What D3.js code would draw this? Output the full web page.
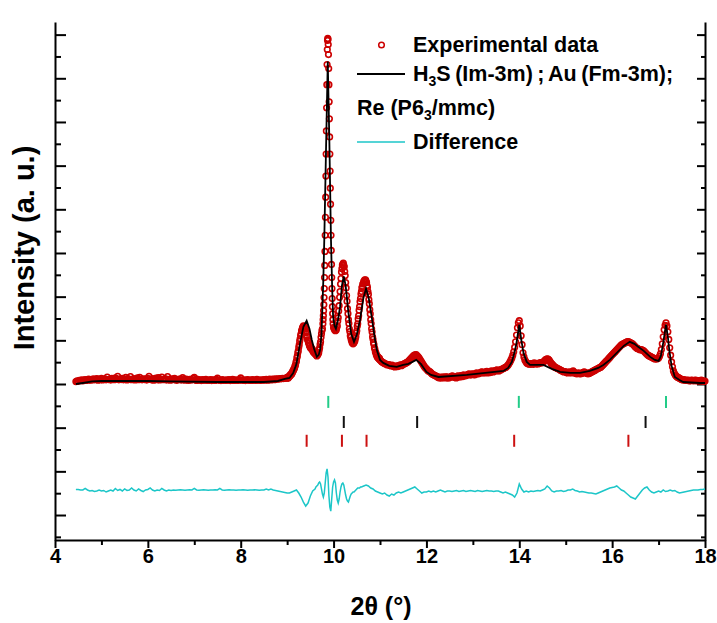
<!DOCTYPE html>
<html>
<head>
<meta charset="utf-8">
<script src="https://cdn.jsdelivr.net/npm/d3@7"></script>
<style>
  body { margin: 0; background: #fff; }
  svg text { font-family: "Liberation Sans", Arial, sans-serif; font-weight: bold; fill: #000; }
</style>
</head>
<body>
<svg id="chart" width="717" height="623"></svg>
<script>
// ---- data (2theta in degrees, intensity in counts) ----
var xMajorTicks = [4, 6, 8, 10, 12, 14, 16, 18];
var xMinorTicks = [5, 7, 9, 11, 13, 15, 17];

// experimental scan, stored as evenly stepped blocks
var expLowStart = 4.45, expLowStep = 0.025;
var expLowCounts = [55, 70, 62, 85, 78, 95, 72, 88, 100, 82,
  96, 110, 84, 102, 90, 118, 95, 105, 125, 88,
  112, 98, 130, 92, 108, 120, 95, 160, 102, 115,
  90, 128, 105, 98, 140, 112, 175, 95, 118, 102,
  132, 96, 110, 150, 92, 122, 104, 170, 98, 115,
  126, 94, 108, 138, 100, 155, 112, 95, 120, 102,
  118, 90, 130, 178, 105, 96, 124, 88, 110, 135,
  100, 145, 92, 115, 160, 98, 108, 126, 90, 170,
  104, 88, 118, 96, 110, 132, 92, 85, 106, 98,
  120, 90, 145, 102, 86, 112, 95, 80, 108, 92,
  98, 128, 150, 90, 82, 104, 88, 96, 78, 100,
  86, 94, 108, 80, 92, 84, 100, 78, 96, 88,
  82, 104, 135, 90, 86, 78, 98, 84, 92, 80,
  96, 86, 100, 78, 90, 104, 82, 94, 86, 92,
  80, 98, 140, 88, 84, 96, 78, 92, 100, 84,
  90, 82, 98, 86, 94, 80, 104, 88, 92, 84,
  96, 86, 100, 92, 106, 88, 98, 112, 94, 104,
  110, 100, 118, 106, 120, 112, 126, 118, 130, 124,
  132, 136];
var expRiseStart = 9.00, expRiseStep = 0.01;
var expRiseCounts = [138, 160, 130, 165, 161, 185, 184, 215, 207, 235,
  230, 270, 276, 310, 322, 355, 368, 415, 437, 495,
  529, 600, 644, 715, 759, 840, 897, 980, 1035, 1110,
  1150, 1215, 1242, 1290, 1288, 1330, 1311, 1320, 1265, 1260,
  1196, 1175, 1104, 1085, 1012, 1000, 943, 930, 874, 875,
  828, 840, 805, 815, 782, 780, 736, 745, 713, 720,
  690, 700, 667, 675, 644, 670, 667, 705, 713, 780,
  828, 910, 966, 1070, 1150, 1225, 1265];
var expMainStart = 9.77, expMainStep = 0.005;
var expMainCounts = [1380, 1472, 1564, 1679, 1817, 1978, 2185, 2438, 2714, 3036,
  3404, 3818, 4278, 4761, 5267, 5796, 6325, 6854, 7314, 7659,
  7866, 7912, 7889, 7774, 7544, 7222, 6854, 6463, 6072, 5658,
  5267, 4876, 4485, 4117, 3749, 3404, 3059, 2737, 2438, 2185,
  1955, 1771, 1610, 1472, 1380];
var expMidStart = 10.00, expMidStep = 0.01;
var expMidCounts = [1288, 1300, 1242, 1250, 1219, 1260, 1242, 1300, 1334, 1440,
  1518, 1670, 1794, 1985, 2116, 2290, 2415, 2565, 2645, 2725,
  2737, 2770, 2714, 2685, 2576, 2485, 2323, 2200, 2024, 1895,
  1725, 1610, 1472, 1385, 1265, 1200, 1104, 1070, 1012, 990,
  943, 955, 920, 945, 943, 980, 989, 1050, 1081, 1165,
  1219, 1320, 1380, 1490, 1564, 1690, 1771, 1885, 1955, 2060,
  2116, 2200, 2231, 2290, 2300, 2350, 2346, 2385, 2369, 2385,
  2346, 2325, 2254, 2210, 2116, 2050, 1932, 1840, 1702, 1605,
  1472, 1385, 1265, 1190, 1081, 1025, 943, 905, 828, 800,
  736, 720, 667, 660, 621, 630, 598, 605, 575, 585];
var expHighStart = 11.00, expHighStep = 0.02;
var expHighCounts = [552, 530, 506, 495, 483, 470, 460, 452, 437, 445,
  437, 425, 414, 430, 414, 400, 391, 405, 414, 398,
  414, 428, 437, 420, 437, 450, 460, 472, 483, 495,
  506, 530, 552, 575, 598, 620, 644, 660, 667, 672,
  644, 625, 598, 565, 529, 495, 460, 425, 391, 368,
  345, 322, 299, 290, 276, 255, 230, 218, 207, 195,
  184, 175, 161, 150, 138, 160, 138, 145, 161, 150,
  138, 165, 161, 140, 138, 155, 161, 175, 184, 160,
  161, 150, 138, 175, 184, 165, 161, 190, 184, 170,
  207, 190, 184, 200, 207, 222, 230, 210, 207, 225,
  230, 215, 207, 240, 253, 235, 230, 250, 253, 270,
  276, 260, 253, 268, 276, 290, 253, 270, 276, 262,
  299, 285, 276, 300, 299, 315, 322, 305, 299, 318,
  322, 335, 345, 355, 368, 380, 391, 410, 437, 470,
  506, 550, 598, 660, 736, 840, 966, 1120, 1288, 1400,
  1449, 1330, 1104, 900, 713, 620, 552, 515, 483, 470,
  460, 455, 460, 470, 460, 450, 483, 470, 460, 475,
  460, 470, 483, 490, 483, 495, 506, 525, 552, 565,
  575, 570, 552, 520, 483, 460, 437, 415, 391, 380,
  368, 355, 345, 335, 322, 310, 299, 290, 276, 285,
  276, 262, 253, 268, 276, 262, 253, 280, 299, 275,
  253, 240, 230, 245, 253, 238, 230, 242, 253, 265,
  276, 262, 253, 240, 230, 242, 253, 265, 276, 288,
  299, 310, 322, 335, 345, 355, 368, 380, 391, 412,
  437, 460, 483, 505, 529, 550, 575, 598, 621, 645,
  667, 690, 713, 735, 759, 782, 805, 828, 851, 875,
  897, 910, 920, 932, 943, 955, 966, 970, 966, 955,
  943, 932, 920, 898, 874, 850, 828, 815, 805, 795,
  782, 785, 782, 772, 759, 738, 713, 690, 667, 655,
  644, 632, 621, 610, 598, 588, 575, 580, 575, 585,
  598, 635, 690, 790, 920, 1080, 1242, 1345, 1403, 1330,
  1196, 1020, 828, 660, 506, 395, 299, 245, 207, 180,
  161, 150, 138, 125, 115, 105, 92, 98, 92, 85,
  92, 80, 92, 75, 69, 85, 92, 78, 69, 82,
  92, 75, 69, 80, 69, 72, 92, 70, 69, 60,
  69];

// refined profile (H3S + Au + Re)
var calcTheta = [4.45, 4.60, 4.80, 5.00, 6.00, 6.50, 7.50, 8.50, 8.80, 8.95,
  9.05, 9.13, 9.20, 9.28, 9.35, 9.42, 9.48, 9.53, 9.58, 9.64,
  9.68, 9.71, 9.74, 9.76, 9.78, 9.80, 9.84, 9.875, 9.91, 9.944,
  9.97, 9.99, 10.02, 10.05, 10.10, 10.14, 10.18, 10.22, 10.26, 10.32,
  10.38, 10.44, 10.50, 10.57, 10.64, 10.70, 10.76, 10.82, 10.88, 10.93,
  11.00, 11.07, 11.20, 11.36, 11.50, 11.61, 11.70, 11.78, 11.88, 12.00,
  12.10, 12.26, 12.87, 13.66, 13.76, 13.84, 13.90, 13.94, 14.00, 14.04,
  14.09, 14.16, 14.23, 14.40, 14.52, 14.70, 14.88, 15.10, 15.31, 15.52,
  15.70, 15.81, 15.95, 16.10, 16.25, 16.38, 16.48, 16.56, 16.68, 16.82,
  16.92, 17.00, 17.05, 17.10, 17.16, 17.20, 17.23, 17.28, 17.35, 17.45,
  17.53, 17.89, 18.00];
var calcCounts = [0, 23, 58, 69, 69, 58, 46, 46, 69, 115,
  138, 253, 460, 943, 1311, 1449, 1265, 1012, 805, 621,
  667, 782, 1150, 1771, 2415, 3312, 5520, 7383, 5520, 3312,
  2185, 1541, 1334, 1265, 1495, 1771, 2254, 2461, 2254, 1633,
  1150, 966, 1127, 1472, 1955, 2185, 1955, 1541, 1104, 782,
  552, 483, 414, 391, 437, 460, 506, 552, 460, 276,
  207, 161, 207, 299, 368, 506, 736, 943, 1357, 1035,
  713, 506, 437, 437, 437, 345, 276, 253, 253, 299,
  368, 437, 552, 713, 874, 966, 920, 851, 759, 621,
  552, 529, 644, 943, 1357, 1081, 782, 414, 161, 92,
  46, 23, 23];

// difference (obs - calc), plotted with an offset
var diffOffset = -2450;
var diffLowStart = 4.45, diffLowStep = 0.05;
var diffLowCounts = [35, 35, 23, 23, 58, 23, 0, 12, -12, 0, 23,
  0, 12, -23, 0, 23, 0, 58, 12, 35, 0, 46, 12, 23, 69, 23, 0, 46, 12, -12, 23,
  35, 69, 23, 0, 23, 12, 58, 23, 0, 23, 12, 23, 18, 23, 28, 23, 18, 23, 28, 23,
  58, 23, 18, 23, 28, 23, 18, 23, 23, 28, 23, 58, 23, 18, 23, 28, 23, 23, 18, 23,
  23, 28, 23, 18, 23, 23, 28, 23, 18, 23, 23, 46, 23, 46, 23, 12, 0, -12, -23, -35,
  -46, -46, -23, 0, 23, -46, -138, -253, -345, -276, -115, 0];
var diffPeakStart = 9.60, diffPeakStep = 0.02;
var diffPeakCounts = [46, 92, 115, 138, 184, 207, 161, 46, -69, -138,
  -46, 184, 414, 506, 322, -115, -368, -460, -184, 92,
  207, 253, 184, -46, -207, -276, -184, -23, 92, 161,
  184, 138, 23, -92, -184, -230, -253, -184, -115, -69,
  -46, -23, -23, 0, 23, 46, 69, 69, 69, 92];
var diffHighStart = 10.60, diffHighStep = 0.05;
var diffHighCounts = [92, 115, 138, 115, 69, 46, 0, -23,
  -46, -69, -46, -92, -115, -69, -92, -46, -23, -46, -23, 0, 23, 46, 69, 92, 46, 0, -46, -23,
  -23, 0, -23, 0, -23, 0, 23, 0, -23, 0, 0, -12, 0, 12, -12, 0, 12, -12, 0, 12,
  0, -12, 12, 0, -12, 0, 12, 0, 0, -12, 0, 0, -23, -46, -23, -46, -69, -92, -138, -46,
  161, 46, -23, 0, -23, 0, -12, 0, 12, 0, 23, 46, 115, 69, 0, -23, 0, 0, 12, -12,
  0, 23, 23, 46, 12, 0, -23, -12, -23, -35, -46, -46, -58, -69, -46, -23, 0, 23, 46, 69,
  81, 92, 115, 69, 23, 0, -46, -92, -138, -161, -184, -115, -46, 23, 69, 92, 23, -23, -46, -23,
  0, -23, 23, -12, 0, 23, 0, 12, -23, -46, -35, -23, -12, 0, 12, 23, 23, 23, 35, 35,
  46];

// Bragg reflection positions
var h3sPeaks = [9.886, 13.99, 17.16];
var auPeaks = [10.22, 11.80, 16.72];
var rePeaks = [9.42, 10.18, 10.71, 13.89, 16.35];

// ---- helpers ----
function scan(start, step, counts) {
  return counts.map(function(c, i) {
    return { t: +(start + i * step).toFixed(4), c: c };
  });
}

var expData = [].concat(
  scan(expLowStart, expLowStep, expLowCounts),
  scan(expRiseStart, expRiseStep, expRiseCounts),
  scan(expMainStart, expMainStep, expMainCounts),
  scan(expMidStart, expMidStep, expMidCounts),
  scan(expHighStart, expHighStep, expHighCounts)
);
var calcData = calcTheta.map(function(t, i) { return { t: t, c: calcCounts[i] }; });
var diffData = [].concat(
  scan(diffLowStart, diffLowStep, diffLowCounts),
  scan(diffPeakStart, diffPeakStep, diffPeakCounts),
  scan(diffHighStart, diffHighStep, diffHighCounts)
);

// ---- layout ----
var svg = d3.select('#chart');
var x = d3.scaleLinear().domain([4, 18]).range([55, 705]);
var y = d3.scaleLinear().domain([-3572, 8289]).range([540, 22]);
var yMajor = d3.range(-3000, 8001, 1000);
var yMinor = d3.range(-3500, 7501, 1000);

function styleAxis(g) {
  g.selectAll('path.domain').attr('stroke', '#000').attr('stroke-width', 2);
  g.selectAll('.tick line').attr('stroke', '#000').attr('stroke-width', 2);
}

// bottom axis
svg.append('g')
  .attr('transform', 'translate(0,540)')
  .call(d3.axisBottom(x).tickValues(xMajorTicks).tickSize(8).tickSizeOuter(0).tickPadding(1))
  .call(styleAxis)
  .call(function(g) {
    g.selectAll('text').style('font-size', '20px').style('font-family', '"Liberation Sans", Arial, sans-serif')
      .style('font-weight', 'bold').attr('fill', '#000');
  });
svg.append('g')
  .attr('transform', 'translate(0,540)')
  .call(d3.axisBottom(x).tickValues(xMinorTicks).tickSize(5).tickFormat(''))
  .call(styleAxis)
  .call(function(g) { g.select('path.domain').remove(); });

// left axis (ticks inward, no labels)
svg.append('g')
  .attr('transform', 'translate(55,0)')
  .call(d3.axisRight(y).tickValues(yMajor).tickSize(11).tickSizeOuter(0).tickFormat(''))
  .call(styleAxis);
svg.append('g')
  .attr('transform', 'translate(55,0)')
  .call(d3.axisRight(y).tickValues(yMinor).tickSize(6).tickFormat(''))
  .call(styleAxis)
  .call(function(g) { g.select('path.domain').remove(); });

// right axis (ticks inward)
svg.append('g')
  .attr('transform', 'translate(705,0)')
  .call(d3.axisLeft(y).tickValues(yMajor).tickSize(8).tickSizeOuter(0).tickFormat(''))
  .call(styleAxis);
svg.append('g')
  .attr('transform', 'translate(705,0)')
  .call(d3.axisLeft(y).tickValues(yMinor).tickSize(4).tickFormat(''))
  .call(styleAxis)
  .call(function(g) { g.select('path.domain').remove(); });

// experimental points
svg.append('g')
  .selectAll('circle')
  .data(expData)
  .enter().append('circle')
  .attr('cx', function(d) { return x(d.t); })
  .attr('cy', function(d) { return y(d.c); })
  .attr('r', 2.8)
  .attr('fill', 'none')
  .attr('stroke', '#cc0000')
  .attr('stroke-width', 1.6);

// calculated profile
svg.append('path')
  .datum(calcData)
  .attr('fill', 'none')
  .attr('stroke', '#000')
  .attr('stroke-width', 1.8)
  .attr('d', d3.line().x(function(d) { return x(d.t); }).y(function(d) { return y(d.c); }));

// difference curve
svg.append('path')
  .datum(diffData)
  .attr('fill', 'none')
  .attr('stroke', '#1cc6c8')
  .attr('stroke-width', 1.5)
  .attr('d', d3.line().x(function(d) { return x(d.t); }).y(function(d) { return y(d.c + diffOffset); }));

// reflection markers
var markerRows = [
  { peaks: h3sPeaks, level: -410, color: '#22cc88' },
  { peaks: auPeaks, level: -870, color: '#111111' },
  { peaks: rePeaks, level: -1300, color: '#cc1111' }
];
markerRows.forEach(function(row) {
  svg.append('g')
    .selectAll('line')
    .data(row.peaks)
    .enter().append('line')
    .attr('x1', function(d) { return x(d); })
    .attr('x2', function(d) { return x(d); })
    .attr('y1', y(row.level) - 6)
    .attr('y2', y(row.level) + 6)
    .attr('stroke', row.color)
    .attr('stroke-width', 2);
});

// axis titles
svg.append('text')
  .attr('x', 381).attr('y', 615)
  .attr('text-anchor', 'middle')
  .style('font-size', '25px')
  .text('2\u03b8 (\u00b0)');
svg.append('text')
  .attr('transform', 'translate(34,248) rotate(-90)')
  .attr('text-anchor', 'middle')
  .style('font-size', '29px')
  .text('Intensity (a. u.)');

// legend
var legend = svg.append('g').style('font-size', '21.5px');
legend.append('circle')
  .attr('cx', 381.5).attr('cy', 45).attr('r', 2.8)
  .attr('fill', 'none').attr('stroke', '#cc0000').attr('stroke-width', 1.5);
legend.append('text').attr('x', 413).attr('y', 52).text('Experimental data');
legend.append('line')
  .attr('x1', 357).attr('x2', 405).attr('y1', 74).attr('y2', 74)
  .attr('stroke', '#000').attr('stroke-width', 1.8);
var l2 = legend.append('text').attr('x', 413).attr('y', 81).style('word-spacing', '-1.5px');
l2.append('tspan').text('H');
l2.append('tspan').attr('dy', 5).style('font-size', '14px').text('3');
l2.append('tspan').attr('dy', -5).text('S (Im-3m) ; Au (Fm-3m);');
var l3 = legend.append('text').attr('x', 357).attr('y', 115);
l3.append('tspan').text('Re (P6');
l3.append('tspan').attr('dy', 5).style('font-size', '14px').text('3');
l3.append('tspan').attr('dy', -5).text('/mmc)');
legend.append('line')
  .attr('x1', 357).attr('x2', 405).attr('y1', 142).attr('y2', 142)
  .attr('stroke', '#1cc6c8').attr('stroke-width', 1.5);
legend.append('text').attr('x', 413).attr('y', 149).text('Difference');
</script>
</body>
</html>
